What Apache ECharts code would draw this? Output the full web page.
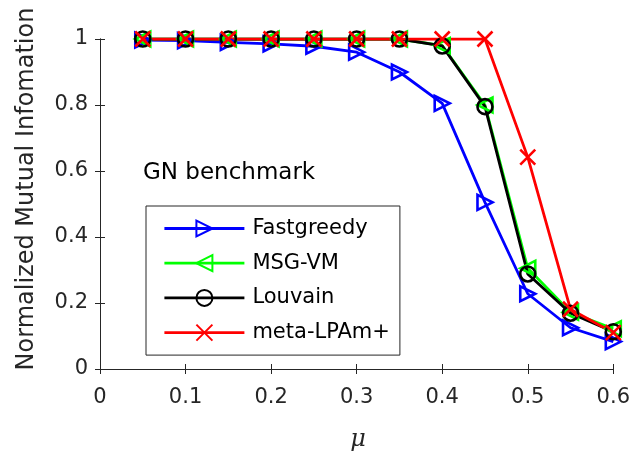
<!DOCTYPE html>
<html>
<head>
<meta charset="utf-8">
<script src="https://cdn.jsdelivr.net/npm/echarts@6/dist/echarts.min.js"></script>
<style>
  html, body { margin: 0; padding: 0; background: #fff; }
  #main { width: 633px; height: 459px; }
</style>
</head>
<body>
<div id="main"></div>
<script>
// mixing parameter mu
var mu = [0.05, 0.1, 0.15, 0.2, 0.25, 0.3, 0.35, 0.4, 0.45, 0.5, 0.55, 0.6];

// NMI values
var fastgreedy = [0.997, 0.995, 0.99, 0.985, 0.978, 0.96, 0.90, 0.805, 0.505, 0.228, 0.125, 0.083];
var msgvm      = [1.0, 1.0, 1.0, 1.0, 1.0, 1.0, 1.0, 0.98, 0.80, 0.305, 0.172, 0.122];
var louvain    = [1.0, 1.0, 1.0, 1.0, 1.0, 1.0, 1.0, 0.979, 0.795, 0.288, 0.169, 0.113];
var metalpam   = [1.0, 1.0, 1.0, 1.0, 1.0, 1.0, 1.0, 1.0, 1.0, 0.642, 0.181, 0.11];

var xTicks = [0, 0.1, 0.2, 0.3, 0.4, 0.5, 0.6];
var yTicks = [0, 0.2, 0.4, 0.6, 0.8, 1];

var names = ['Fastgreedy', 'MSG-VM', 'Louvain', 'meta-LPAm+'];

function pairs(ys) {
    return mu.map(function(x, i) { return [x, ys[i]]; });
}

var FONT = 'DejaVu Sans';
var AXC = '#262626';
var crossPath = 'path://M0,0L10,10M10,0L0,10';

function mkSeries(name, ys, color, symbol, rot) {
    return {
        name: name,
        type: 'line',
        data: pairs(ys),
        symbol: symbol,
        symbolSize: 15,
        symbolRotate: rot,
        showAllSymbol: true,
        lineStyle: { color: color, width: 2.8 },
        itemStyle: { color: 'rgba(0,0,0,0)', borderColor: color, borderWidth: 2.6 },
        emphasis: { disabled: true },
        animation: false
    };
}

var myChart = echarts.init(document.getElementById('main'));

var axisCommonX = {
    type: 'value',
    min: 0,
    max: 0.6,
    interval: 0.1,
    splitLine: { show: false },
    axisLine: { show: true, lineStyle: { color: AXC, width: 1 } },
    axisTick: { show: true, inside: true, length: 5, lineStyle: { color: AXC } }
};
var axisCommonY = {
    type: 'value',
    min: 0,
    max: 1,
    interval: 0.2,
    splitLine: { show: false },
    axisLine: { show: true, lineStyle: { color: AXC, width: 1 } },
    axisTick: { show: true, inside: true, length: 5, lineStyle: { color: AXC } }
};

var option = {
    backgroundColor: '#fff',
    animation: false,
    grid: { left: 100, right: 18, top: 39, bottom: 90, containLabel: false },
    xAxis: [
        Object.assign({}, axisCommonX, {
            position: 'bottom',
            axisLabel: { color: AXC, fontFamily: FONT, fontSize: 21, margin: 18,
                formatter: function(v) { return xTicks.indexOf(+v.toFixed(1)) >= 0 ? String(+v.toFixed(1)) : ''; } }
        }),
        Object.assign({}, axisCommonX, { position: 'top', axisLabel: { show: false } })
    ],
    yAxis: [
        Object.assign({}, axisCommonY, {
            position: 'left',
            axisLabel: { color: AXC, fontFamily: FONT, fontSize: 21, margin: 12,
                formatter: function(v) { return yTicks.indexOf(+v.toFixed(1)) >= 0 ? String(+v.toFixed(1)) : ''; } }
        }),
        Object.assign({}, axisCommonY, { position: 'right', axisLabel: { show: false } })
    ],
    legend: {
        data: names,
        orient: 'vertical',
        left: 146,
        top: 206,
        padding: [12, 10, 12, 17],
        itemWidth: 80,
        itemHeight: 20,
        itemGap: 13.7,
        symbolRotate: 'inherit',
        lineStyle: { width: 2.8 },
        backgroundColor: '#fff',
        borderColor: AXC,
        borderWidth: 1,
        borderRadius: 0,
        textStyle: { color: '#000', fontFamily: FONT, fontSize: 21, padding: [0, 0, 0, 3] }
    },
    graphic: [
        {
            type: 'text', x: 143, y: 173,
            style: { text: 'GN benchmark', font: '23px "DejaVu Sans"', fill: '#000',
                textAlign: 'left', textVerticalAlign: 'middle' }
        },
        {
            type: 'text', x: 27, y: 189, rotation: Math.PI / 2,
            style: { text: 'Normalized Mutual Infomation', font: '24px "DejaVu Sans"', fill: AXC,
                textAlign: 'center', textVerticalAlign: 'middle' }
        },
        {
            type: 'text', x: 358, y: 440,
            style: { text: 'μ', font: 'italic 24px "DejaVu Serif"', fill: AXC,
                textAlign: 'center', textVerticalAlign: 'middle' }
        }
    ],
    series: [
        mkSeries(names[0], fastgreedy, '#0000ff', 'triangle', -90),
        mkSeries(names[1], msgvm, '#00ff00', 'triangle', 90),
        mkSeries(names[2], louvain, '#000000', 'circle', 0),
        mkSeries(names[3], metalpam, '#ff0000', crossPath, 0)
    ]
};

myChart.setOption(option);
</script>
</body>
</html>
